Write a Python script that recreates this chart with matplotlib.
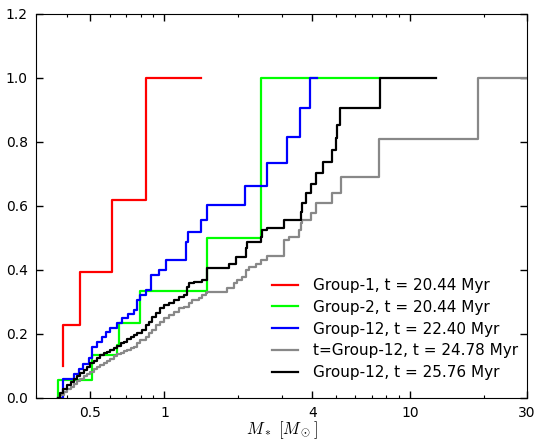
import matplotlib
matplotlib.use('Agg')
import matplotlib.pyplot as plt
from matplotlib.ticker import NullFormatter, LogLocator

plt.rcParams['mathtext.fontset'] = 'cm'
plt.rcParams['font.size'] = 10

# cumulative mass functions (mass in Msun, cumulative fraction)
red_m = [0.386, 0.386, 0.455, 0.613, 0.838, 1.403]
red_f = [0.10, 0.227, 0.395, 0.619, 1.0, 1.0]

green_m = [0.370, 0.370, 0.508, 0.642, 0.652, 0.794, 1.491, 2.479, 7.47]
green_f = [0.0, 0.056, 0.134, 0.167, 0.233, 0.333, 0.5, 1.0, 1.0]

blue_m = [0.367, 0.387, 0.428, 0.448, 0.468, 0.491, 0.508, 0.533, 0.555, 0.576,
          0.603, 0.642, 0.673, 0.708, 0.751, 0.770, 0.794, 0.838, 0.884, 0.949,
          1.011, 1.219, 1.242, 1.403, 1.494, 2.120, 2.623, 3.164, 3.551, 3.900, 4.192]
blue_f = [0.0, 0.058, 0.075, 0.09, 0.105, 0.125, 0.16, 0.175, 0.19, 0.205,
          0.22, 0.234, 0.25, 0.262, 0.275, 0.306, 0.322, 0.3375, 0.384, 0.4,
          0.431, 0.488, 0.52, 0.556, 0.603, 0.663, 0.735, 0.817, 0.905, 1.0, 1.0]

gray_m = [0.367, 0.377, 0.389, 0.402, 0.415, 0.428, 0.442, 0.455, 0.470, 0.485,
          0.500, 0.516, 0.533, 0.549, 0.567, 0.585, 0.603, 0.622, 0.642, 0.663,
          0.683, 0.706, 0.728, 0.751, 0.775, 0.799, 0.838, 0.864, 0.892, 0.920,
          0.964, 0.995, 1.042, 1.092, 1.145, 1.200, 1.257, 1.298, 1.381, 1.426,
          1.471, 1.494, 1.802, 1.918, 1.980, 2.075, 2.140, 2.207, 2.350, 2.463,
          2.623, 3.065, 3.212, 3.527, 3.584, 3.642, 3.937, 4.126, 4.816, 5.216,
          7.51, 18.94, 30.0]
gray_f = [0.0, 0.01, 0.02, 0.028, 0.035, 0.043, 0.052, 0.06, 0.068, 0.075,
          0.082, 0.09, 0.097, 0.104, 0.11, 0.117, 0.123, 0.13, 0.136, 0.141,
          0.146, 0.15, 0.155, 0.16, 0.171, 0.181, 0.191, 0.202, 0.2125, 0.228,
          0.238, 0.249, 0.259, 0.27, 0.28, 0.285, 0.296, 0.306, 0.311, 0.322,
          0.327, 0.332, 0.343, 0.358, 0.369, 0.379, 0.40, 0.41, 0.42, 0.431,
          0.445, 0.494, 0.504, 0.525, 0.546, 0.556, 0.577, 0.608, 0.642, 0.692,
          0.81, 1.0, 1.0]

black_m = [0.367, 0.377, 0.388, 0.402, 0.415, 0.428, 0.442, 0.455, 0.470, 0.485,
           0.500, 0.516, 0.533, 0.549, 0.567, 0.585, 0.603, 0.622, 0.642, 0.663,
           0.683, 0.706, 0.728, 0.751, 0.775, 0.812, 0.838, 0.864, 0.892, 0.920,
           0.964, 0.995, 1.042, 1.092, 1.145, 1.200, 1.239, 1.257, 1.318, 1.426,
           1.494, 1.830, 1.948, 2.140, 2.174, 2.463, 2.503, 2.623, 3.065, 3.584,
           3.642, 3.756, 3.937, 4.126, 4.435, 4.816, 4.977, 5.024, 5.182, 7.52, 12.71]
black_f = [0.0, 0.015, 0.028, 0.04, 0.05, 0.06, 0.068, 0.077, 0.088, 0.098,
           0.108, 0.117, 0.126, 0.134, 0.14, 0.145, 0.15, 0.157, 0.164, 0.171,
           0.176, 0.183, 0.19, 0.196, 0.204, 0.2125, 0.228, 0.238, 0.254, 0.265,
           0.28, 0.29, 0.296, 0.306, 0.317, 0.322, 0.348, 0.358, 0.364, 0.369,
           0.405, 0.42, 0.442, 0.468, 0.488, 0.504, 0.525, 0.53, 0.556, 0.582,
           0.608, 0.64, 0.67, 0.702, 0.739, 0.775, 0.811, 0.853, 0.906, 1.0, 1.0]

series = [
    (red_m, red_f, '#ff0000', 'Group-1, t = 20.44 Myr'),
    (green_m, green_f, '#00ff00', 'Group-2, t = 20.44 Myr'),
    (blue_m, blue_f, '#0000ff', 'Group-12, t = 22.40 Myr'),
    (gray_m, gray_f, '#888888', 't=Group-12, t = 24.78 Myr'),
    (black_m, black_f, '#000000', 'Group-12, t = 25.76 Myr'),
]

fig = plt.figure(figsize=(5.39, 4.43), dpi=100)
ax = fig.add_axes([0.0668, 0.1016, 0.9112, 0.8668])

for m, f, c, lab in series:
    ax.step(m, f, where='post', color=c, lw=1.6, label=lab)

ax.set_xscale('log')
ax.set_xlim(0.3, 30)
ax.set_ylim(0, 1.2)
ax.set_xticks([0.5, 1, 4, 10, 30])
ax.set_xticklabels(['0.5', '1', '4', '10', '30'])
ax.xaxis.set_minor_locator(LogLocator(base=10, subs=range(2, 10)))
ax.xaxis.set_minor_formatter(NullFormatter())
ax.set_yticks([0, 0.2, 0.4, 0.6, 0.8, 1.0, 1.2])
ax.set_yticklabels(['0.0', '0.2', '0.4', '0.6', '0.8', '1.0', '1.2'])
ax.tick_params(which='both', direction='in', top=True, right=True)
ax.tick_params(which='major', length=5, width=1, pad=6)
ax.tick_params(which='minor', length=2.5, width=0.8)

ax.set_xlabel(r'$M_*\ [M_\odot]$', fontsize=12, labelpad=-1)

ax.legend(loc='lower right', bbox_to_anchor=(0.994, 0.03), borderaxespad=0,
          frameon=False, fontsize=11, handlelength=1.7, handletextpad=0.95,
          labelspacing=0.45)

fig.savefig('out.png', dpi=100)
